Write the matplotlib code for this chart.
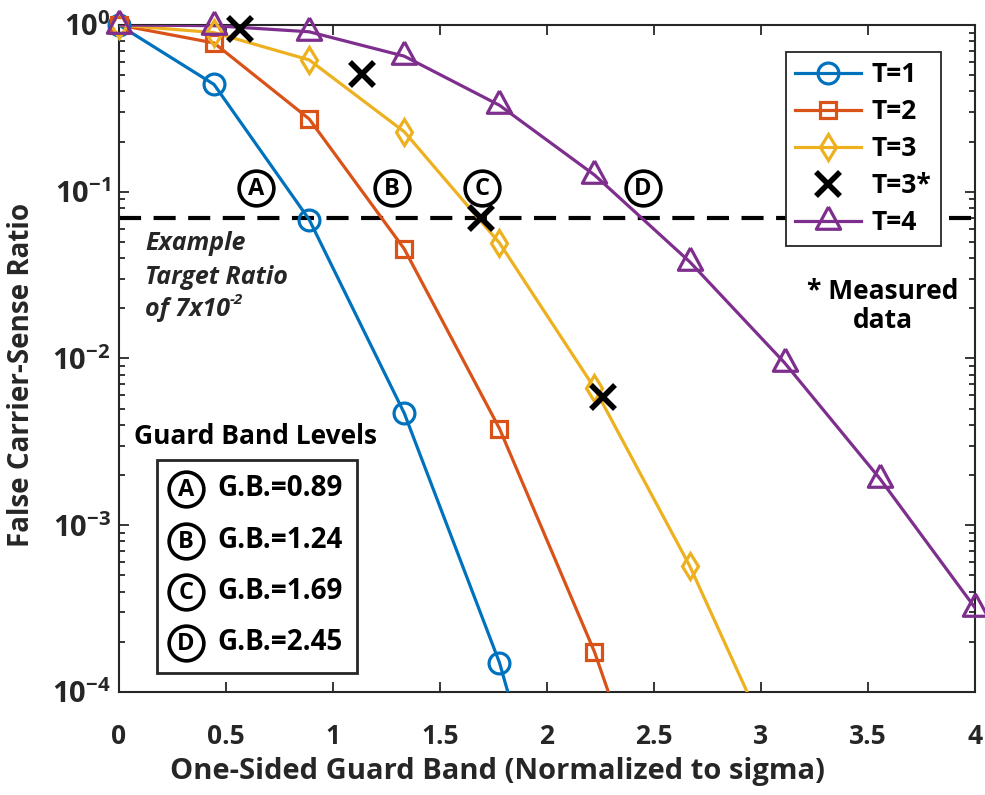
import numpy as np
import matplotlib
matplotlib.use("Agg")
import matplotlib.pyplot as plt
from matplotlib.ticker import FixedLocator, FixedFormatter, LogLocator, NullFormatter
from matplotlib.lines import Line2D
from matplotlib.patches import Rectangle

FONT = "Open Sans"
plt.rcParams["font.family"] = [FONT, "DejaVu Sans"]
plt.rcParams["font.weight"] = "bold"
plt.rcParams["mathtext.fontset"] = "custom"
plt.rcParams["mathtext.rm"] = f"{FONT}:bold"
plt.rcParams["mathtext.bf"] = f"{FONT}:bold"
plt.rcParams["mathtext.it"] = f"{FONT}:bold:italic"
plt.rcParams["mathtext.default"] = "bf"

# ---- data -------------------------------------------------------------
guard_band = [0.0, 0.444, 0.889, 1.333, 1.778, 2.222, 2.667, 3.111, 3.556, 4.0]

ratio_t1 = [1.0, 0.44, 0.068, 0.0047, 1.5e-4, 1.5e-6]
ratio_t2 = [1.0, 0.78, 0.273, 0.0454, 0.0038, 1.74e-4, 3.9e-6]
ratio_t3 = [1.0, 0.90, 0.617, 0.229, 0.0493, 0.00665, 5.7e-4, 3.2e-5]
ratio_t4 = [1.0, 0.99, 0.91, 0.65, 0.33, 0.126, 0.038, 0.0094, 0.0019, 3.2e-4]

measured_gb = [0.565, 1.135, 1.69, 2.26]
measured_t3 = [0.946, 0.508, 0.07, 0.0059]

target_ratio = 0.07

level_letters = ["A", "B", "C", "D"]
level_values = [0.89, 1.24, 1.69, 2.45]
level_label_x = [0.64, 1.276, 1.696, 2.449]

x_ticks = [0, 0.5, 1, 1.5, 2, 2.5, 3, 3.5, 4]
x_tick_labels = ["0", "0.5", "1", "1.5", "2", "2.5", "3", "3.5", "4"]
y_ticks = [1e-4, 1e-3, 1e-2, 1e-1, 1e0]
y_tick_labels = [r"$10^{-4}$", r"$10^{-3}$", r"$10^{-2}$", r"$10^{-1}$", r"$10^{0}$"]

# ---- styling ----------------------------------------------------------
AX_COLOR = "#262626"
LW = 2.3
tri = [(0, 1.2), (-1, -0.64), (1, -0.64), (0, 1.2)]
series = [
    ("T=1", ratio_t1, "#0072BD", "o", 15),
    ("T=2", ratio_t2, "#D95319", "s", 12),
    ("T=3", ratio_t3, "#EDB120", "d", 13),
    ("T=4", ratio_t4, "#7E2F8E", tri, 21),
]

fig = plt.figure(figsize=(9.85, 7.95), dpi=100)
ax = fig.add_axes([0.1208, 0.1296, 0.869, 0.839])
ax.set_yscale("log")
ax.set_xlim(0, 4)
ax.set_ylim(1e-4, 1)

handles = {}
for label, vals, color, marker, ms in series:
    xs = np.array(guard_band[: len(vals)])
    ys = np.array(vals)
    ax.plot(xs, ys, color=color, lw=LW, zorder=3)
    keep = ys >= 1e-4
    ax.plot(xs[keep], ys[keep], ls="none", marker=marker, ms=ms,
            mfc="none", mec=color, mew=LW, clip_on=False, zorder=4)
    handles[label] = Line2D([], [], color=color, lw=LW, marker=marker, ms=ms,
                            mfc="none", mec=color, mew=LW)

ax.plot(measured_gb, measured_t3, ls="none", marker="x", ms=17, mew=4,
        color="black", clip_on=False, zorder=5)
handles["T=3*"] = Line2D([], [], ls="none", marker="x", ms=17, mew=4, color="black")

# target ratio
ax.axhline(target_ratio, color="black", lw=3.0, dashes=(5.3, 3.0), zorder=2)

# circled guard-band letters along the target line
for letter, gx in zip(level_letters, level_label_x):
    ax.plot([gx], [0.105], marker="o", ms=25, mfc="white", mec="black",
            mew=2.6, zorder=6)
    ax.text(gx, 0.104, letter, ha="center", va="center", fontsize=17,
            fontweight="bold", color="black", zorder=7)

# axes styling
ax.xaxis.set_major_locator(FixedLocator(x_ticks))
ax.xaxis.set_major_formatter(FixedFormatter(x_tick_labels))
ax.yaxis.set_major_locator(FixedLocator(y_ticks))
ax.yaxis.set_major_formatter(FixedFormatter(y_tick_labels))
ax.yaxis.set_minor_locator(LogLocator(base=10, subs=np.arange(2, 10)))
ax.yaxis.set_minor_formatter(NullFormatter())
ax.tick_params(which="both", direction="in", top=True, right=True,
               color=AX_COLOR, width=1.3)
ax.tick_params(which="major", length=7)
ax.tick_params(which="minor", length=4)
ax.tick_params(axis="x", labelsize=19, pad=22, labelcolor=AX_COLOR)
ax.tick_params(axis="y", labelsize=21, pad=6, labelcolor=AX_COLOR)
for sp in ax.spines.values():
    sp.set_color(AX_COLOR)
    sp.set_linewidth(1.5)

ax.set_xlabel("One-Sided Guard Band (Normalized to sigma)", fontsize=21,
              fontweight="bold", color=AX_COLOR, labelpad=4)
ax.xaxis.set_label_coords(0.4416, -0.098)
ax.set_ylabel("False Carrier-Sense Ratio", fontsize=20, fontweight="bold",
              color=AX_COLOR)
ax.yaxis.set_label_coords(-0.097, 0.475)

# legend
order = ["T=1", "T=2", "T=3", "T=3*", "T=4"]
leg = ax.legend([handles[k] for k in order], order, loc="upper right",
                bbox_to_anchor=(0.960, 0.9595), fontsize=19, frameon=True,
                fancybox=False, edgecolor=AX_COLOR, framealpha=1.0,
                handlelength=2.5, handletextpad=0.4, labelspacing=0.38,
                borderpad=0.35, borderaxespad=0.0)
leg.get_frame().set_linewidth(1.3)
leg.set_zorder(10)

# annotations
note_kw = dict(transform=ax.transAxes, ha="left", va="center", fontsize=18,
               fontstyle="italic", fontweight="bold", color=AX_COLOR)
ax.text(0.0304, 0.673, "Example", **note_kw)
ax.text(0.0304, 0.621, "Target Ratio", **note_kw)
of_txt = ax.text(0.0304, 0.573, "of 7x10", **note_kw)
ax.annotate("-2", xy=(1.0, 0.62), xycoords=of_txt, ha="left", va="bottom",
            fontsize=11, fontstyle="italic", fontweight="bold", color=AX_COLOR)

ax.text(0.892, 0.579, "* Measured\ndata", transform=ax.transAxes, ha="center",
        va="center", fontsize=19, fontweight="bold", color="black",
        linespacing=1.1)

# guard band level box
ax.text(0.1589, 0.3823, "Guard Band Levels", transform=ax.transAxes,
        ha="center", va="center", fontsize=19, fontweight="bold", color="black")
ax.add_patch(Rectangle((0.0444, 0.0285), 0.2336, 0.3195, transform=ax.transAxes,
                       fill=True, fc="white", ec=AX_COLOR, lw=2.0, zorder=8,
                       clip_on=False))
row_y = [0.3043, 0.2264, 0.1499, 0.0735]
for letter, val, yy in zip(level_letters, level_values, row_y):
    ax.plot([0.0783], [yy], transform=ax.transAxes, marker="o", ms=25,
            mfc="white", mec="black", mew=2.6, zorder=9, clip_on=False)
    ax.text(0.0783, yy - 0.002, letter, transform=ax.transAxes, ha="center",
            va="center", fontsize=17, fontweight="bold", color="black", zorder=10)
    ax.text(0.1145, yy, f"G.B.={val:.2f}", transform=ax.transAxes, ha="left",
            va="center", fontsize=20, fontweight="bold", color="black", zorder=10)

fig.savefig("out.png", dpi=100)
